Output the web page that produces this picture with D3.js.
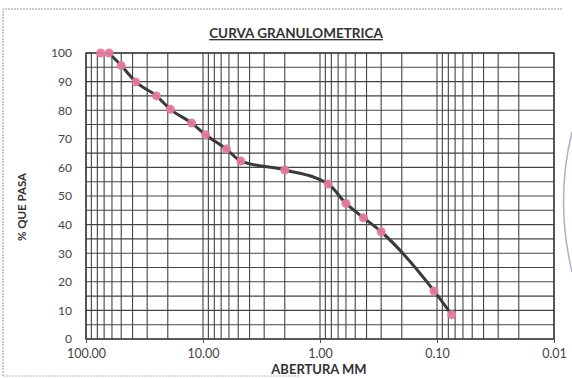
<!DOCTYPE html>
<html>
<head>
<meta charset="utf-8">
<script src="https://cdn.jsdelivr.net/npm/d3@7"></script>
<style>
  html, body { margin: 0; padding: 0; background: #fff; }
  svg { display: block; }
</style>
</head>
<body>
<svg id="chart" width="572" height="378"></svg>
<script>
// Data
const aberturas = [75, 63.5, 50, 37.5, 25, 19, 12.5, 9.5, 6.3, 4.75, 2.0, 0.85, 0.60, 0.425, 0.30, 0.106, 0.075];
const pasa      = [100, 100, 95.6, 89.9, 85.0, 80.3, 75.5, 71.4, 66.4, 62.2, 59.1, 54.2, 47.4, 42.4, 37.5, 16.8, 8.5];
const xTicks = [100, 10, 1, 0.1, 0.01];
const xTickLabels = ["100.00", "10.00", "1.00", "0.10", "0.01"];
const yTicks = [0, 10, 20, 30, 40, 50, 60, 70, 80, 90, 100];
const titleText = "CURVA GRANULOMETRICA";
const xTitle = "ABERTURA MM";
const yTitle = "% QUE PASA";

const svg = d3.select("#chart");
const font = "Lato, 'Open Sans', sans-serif";
const L = 86, R = 554, T = 53, B = 339;

const x = d3.scaleLog().domain([100, 0.01]).range([L, R]);
const y = d3.scaleLinear().domain([0, 100]).range([B, T]);

// outer frame (scan)
svg.append("path")
  .attr("d", "M3,376 L3,9 L563,9")
  .attr("fill", "none").attr("stroke", "#999").attr("stroke-width", 1)
  .attr("stroke-dasharray", "2,1");
svg.append("line").attr("x1", 3).attr("x2", 300).attr("y1", 376).attr("y2", 376)
  .attr("stroke", "#bbb").attr("stroke-width", 1).attr("stroke-dasharray", "2,1");

// stamp arc at right edge
svg.append("path")
  .attr("d", "M572,132 Q555,200 572,272")
  .attr("fill", "none").attr("stroke", "#8a8fb0").attr("stroke-width", 1.5).attr("opacity", 0.7);

// grid
const g = svg.append("g");
const hVals = d3.range(0, 101, 5);
g.selectAll("line.h").data(hVals).join("line")
  .attr("x1", L).attr("x2", R)
  .attr("y1", d => y(d)).attr("y2", d => y(d))
  .attr("stroke", "#444").attr("stroke-width", 1.1);

const vVals = [];
[10, 1, 0.1, 0.01].forEach(base => {
  for (let k = 1; k <= 9; k++) vVals.push(base * k);
});
vVals.push(100);
g.selectAll("line.v").data(vVals).join("line")
  .attr("x1", d => x(d)).attr("x2", d => x(d))
  .attr("y1", T).attr("y2", B)
  .attr("stroke", "#444").attr("stroke-width", 1.1);

// border
svg.append("rect").attr("x", L).attr("y", T).attr("width", R - L).attr("height", B - T)
  .attr("fill", "none").attr("stroke", "#333").attr("stroke-width", 1.3);

// axes
const xAxis = d3.axisBottom(x).tickValues(xTicks)
  .tickFormat((d, i) => xTickLabels[i]).tickSize(4).tickPadding(6);
const xg = svg.append("g").attr("transform", `translate(0,${B})`).call(xAxis);
xg.select(".domain").remove();
xg.selectAll(".tick line").attr("stroke", "#555");
xg.selectAll("text").attr("font-family", font).attr("font-size", 12.5).attr("fill", "#444");

const yAxis = d3.axisLeft(y).tickValues(yTicks).tickSize(0).tickPadding(14);
const yg = svg.append("g").attr("transform", `translate(${L},0)`).call(yAxis);
yg.select(".domain").remove();
yg.selectAll("text").attr("font-family", font).attr("font-size", 12).attr("fill", "#444");

// curve
const pts = aberturas.map((a, i) => [a, pasa[i]]);
const line = d3.line().x(d => x(d[0])).y(d => y(d[1])).curve(d3.curveMonotoneX);
svg.append("path").datum(pts.slice(1))
  .attr("d", line)
  .attr("fill", "none").attr("stroke", "#3a3a3a").attr("stroke-width", 3);

svg.selectAll("circle.pt").data(pts).join("circle")
  .attr("cx", d => x(d[0])).attr("cy", d => y(d[1])).attr("r", 4.5)
  .attr("fill", "#e07aa0").attr("opacity", 0.95);

// titles
svg.append("text").attr("x", 296).attr("y", 38).attr("text-anchor", "middle")
  .attr("font-family", font).attr("font-weight", "bold").attr("font-size", 13.5)
  .attr("fill", "#333").attr("text-decoration", "underline").text(titleText);

svg.append("text").attr("x", 319).attr("y", 374).attr("text-anchor", "middle")
  .attr("font-family", font).attr("font-weight", "bold").attr("font-size", 13)
  .attr("fill", "#333").text(xTitle);

svg.append("text").attr("transform", "translate(26,207) rotate(-90)").attr("text-anchor", "middle")
  .attr("font-family", font).attr("font-weight", "bold").attr("font-size", 11.5)
  .attr("fill", "#333").text(yTitle);
</script>
</body>
</html>
